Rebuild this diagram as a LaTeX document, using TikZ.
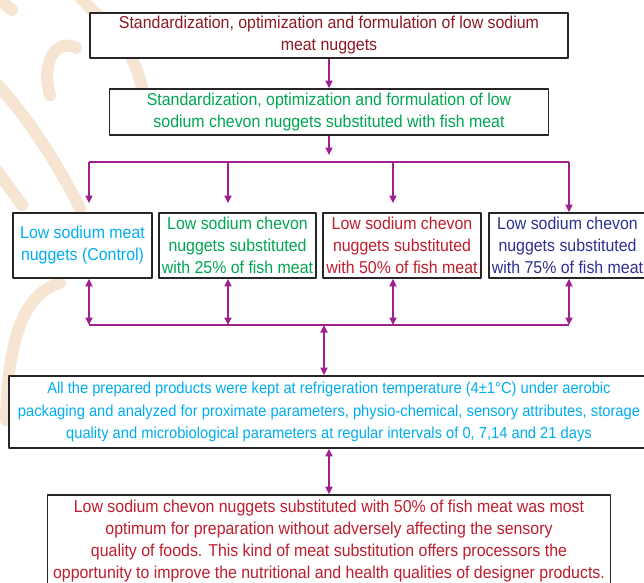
\documentclass[tikz,border=0pt]{standalone}
\usepackage{fontspec}
\setmainfont{Liberation Sans}
\newfontfamily\narrowsans[FakeStretch=0.925]{Liberation Sans}
\usetikzlibrary{arrows.meta}
\definecolor{wmarkc}{RGB}{246,229,211}
\definecolor{linkc}{RGB}{160,32,144}
\definecolor{maroonc}{RGB}{139,26,36}
\definecolor{greenc}{RGB}{0,166,81}
\definecolor{cyanc}{RGB}{0,174,239}
\definecolor{redc}{RGB}{190,30,45}
\definecolor{bluec}{RGB}{46,49,146}

\begin{document}
\begin{tikzpicture}[line cap=round,line join=round,>={Triangle[length=7.5pt,width=7pt]},x=1pt,y=-1pt,
    stage/.style={draw=black!85,line width=1.7pt,fill=white,align=center,inner sep=0pt,
        font=\narrowsans\fontsize{17.2}{22}\selectfont},
    link/.style={draw=linkc,line width=1.8pt,line cap=butt},
    wmark/.style={draw=wmarkc,line width=12pt}]
    \useasboundingbox (0,0) rectangle (644,582);
    \clip (0,0) rectangle (644,582);
    % faint watermark
    \draw [wmark] (0,0) -- (12,10);
    \draw [wmark] (78,-5) .. controls (100,20) and (132,40) .. (142,88);
    \draw [wmark] (50,95) .. controls (40,60) and (58,38) .. (76,48);
    \draw [wmark] (-5,82) .. controls (30,120) and (55,160) .. (80,208);
    \draw [wmark] (-5,168) -- (22,205);
    \draw [wmark] (60,283) .. controls (30,292) and (8,325) .. (6,420);
    % boxes
    \node [stage,minimum width=478pt,minimum height=45pt,text=maroonc] (top) at (329,35.5)
        {Standardization, optimization and formulation of low sodium\\meat nuggets};
    \node [stage,minimum width=439pt,minimum height=46pt,text=greenc] (mid) at (329,112)
        {Standardization, optimization and formulation of low\\sodium chevon nuggets substituted with fish meat};
    \node [stage,minimum width=139pt,minimum height=65pt,text=cyanc] (ctrl) at (82.5,245.5)
        {Low sodium meat\\nuggets (Control)};
    \node [stage,minimum width=157pt,minimum height=65pt,text=greenc] (fishA) at (237.5,245.5)
        {Low sodium chevon\\nuggets substituted\\with 25\% of fish meat};
    \node [stage,minimum width=158pt,minimum height=65pt,text=redc] (fishB) at (402,245.5)
        {Low sodium chevon\\nuggets substituted\\with 50\% of fish meat};
    \node [stage,minimum width=157pt,minimum height=65pt,text=bluec] (fishC) at (567.5,245.5)
        {Low sodium chevon\\nuggets substituted\\with 75\% of fish meat};
    \node [stage,minimum width=640pt,minimum height=72pt,text=cyanc,
        font=\narrowsans\fontsize{15.9}{22.5}\selectfont] (store) at (329,412)
        {All the prepared products were kept at refrigeration temperature (4±1°C) under aerobic\\
         packaging and analyzed for proximate parameters, physio-chemical, sensory attributes, storage\\
         quality and microbiological parameters at regular intervals of 0, 7,14 and 21 days};
    \node [stage,minimum width=563pt,minimum height=93pt,text=redc] (result) at (329,541.5)
        {Low sodium chevon nuggets substituted with 50\% of fish meat was most\\
         optimum for preparation without adversely affecting the sensory\\
         quality of foods. This kind of meat substitution offers processors the\\
         opportunity to improve the nutritional and health qualities of designer products.};
    % connectors
    \coordinate (d1) at (89,162);
    \coordinate (d2) at (228,162);
    \coordinate (d3) at (393,162);
    \coordinate (d4) at (569,162);
    \coordinate (u1) at (89,325);
    \coordinate (u2) at (228,325);
    \coordinate (u3) at (393,325);
    \coordinate (u4) at (569,325);
    \coordinate (uc) at (324,325);
    \draw [link,->] (top.south) -- (mid.north);
    \draw [link,->,shorten >=7pt] (mid.south) -- (mid.south |- d1);
    \draw [link] (d1) -- (d4);
    \draw [link,->,shorten >=9pt] (d1) -- (d1 |- ctrl.north);
    \draw [link,->,shorten >=9pt] (d2) -- (d2 |- fishA.north);
    \draw [link,->,shorten >=9pt] (d3) -- (d3 |- fishB.north);
    \draw [link,->] (d4) -- (d4 |- fishC.north);
    \draw [link] (u1) -- (u4);
    \draw [link,<->] (u1 |- ctrl.south) -- (u1);
    \draw [link,<->] (u2 |- fishA.south) -- (u2);
    \draw [link,<->] (u3 |- fishB.south) -- (u3);
    \draw [link,<->] (u4 |- fishC.south) -- (u4);
    \draw [link,<->] (uc) -- (uc |- store.north);
    \draw [link,<->] (store.south) -- (result.north);
\end{tikzpicture}
\end{document}
